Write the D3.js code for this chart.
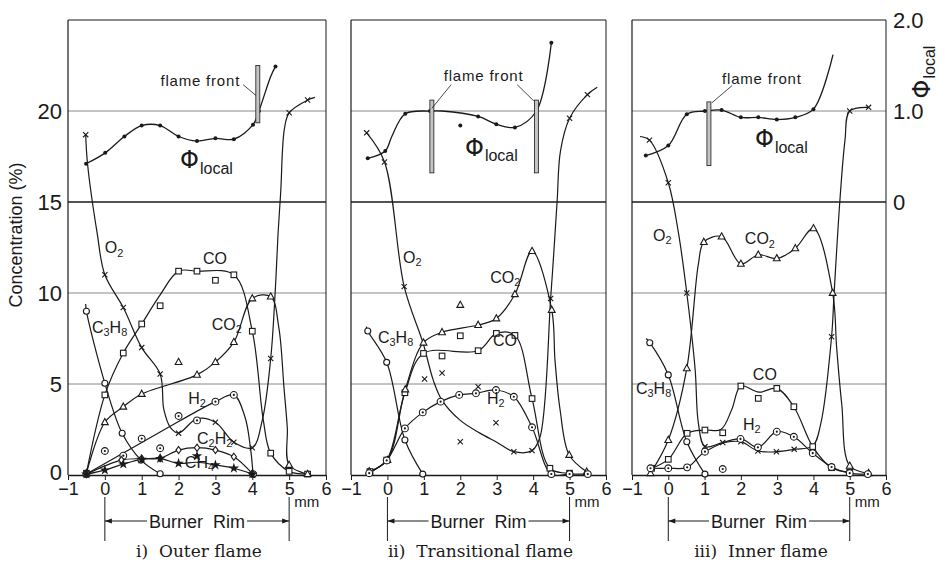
<!DOCTYPE html>
<html>
<head>
<meta charset="utf-8">
<script src="https://cdn.jsdelivr.net/npm/d3@7"></script>
<style>
body { margin: 0; background: #fff; }
svg { display: block; }
</style>
</head>
<body>
<svg id="chart" width="945" height="574"></svg>
<script>
// ---- data (x in mm, concentration in %, phi dimensionless)
// point kind: 'm' measured point on the curve, 'o' measured point off the curve, 'k' curve knot only
const xTicks = [-1, 0, 1, 2, 3, 4, 5, 6]
const concTicks = [0, 5, 10, 15, 20]
const gridValues = [5, 10, 15, 20]
const phiTicks = [0, 1, 2]
const phiTickLabels = ['0', '1.0', '2.0']
const panelTitles = ['i)  Outer flame', 'ii)  Transitional flame', 'iii)  Inner flame']
const rimEdges = [0, 5]

const outerPhi = [[-0.51,0.42,'m'],[0.01,0.54,'m'],[0.53,0.72,'m'],[1.0,0.84,'m'],[1.5,0.84,'m'],[2.0,0.72,'m'],[2.5,0.67,'m'],[3.0,0.70,'m'],[3.5,0.69,'m'],[4.02,0.85,'m'],[4.18,1.0,'m'],[4.5,1.38,'k'],[4.63,1.49,'m']]
const outerO2 = [[-0.52,18.7,'m'],[-0.47,17.1,'k'],[-0.21,13.3,'k'],[0,11.0,'m'],[0.5,9.2,'m'],[1,7.0,'m'],[1.5,5.55,'m'],[1.6,3.6,'k'],[1.78,2.6,'k'],[2,2.3,'m'],[2.5,3.1,'k'],[3,2.9,'m'],[3.5,1.8,'m'],[4,1.5,'m'],[4.27,3.0,'k'],[4.5,6.4,'m'],[4.62,10,'k'],[4.7,13.3,'k'],[4.77,15.5,'k'],[4.87,19.0,'k'],[5,19.9,'m'],[5.5,20.6,'m'],[5.7,20.75,'k']]
const outerCO = [[-0.5,0.1,'m'],[0,4.4,'m'],[0.5,6.7,'m'],[1,8.3,'m'],[1.5,9.3,'o'],[1.5,9.9,'k'],[2,11.2,'m'],[2.5,11.2,'m'],[3,10.7,'o'],[3.5,11.0,'m'],[4,7.9,'m'],[4.3,3.0,'k'],[4.5,1.2,'m'],[5,0.2,'m'],[5.5,0.05,'m']]
const outerCO2 = [[-0.5,0.1,'m'],[0,2.9,'m'],[0.5,3.75,'m'],[1,4.45,'m'],[2,6.2,'o'],[2.5,5.5,'m'],[3,6.2,'m'],[3.5,7.3,'m'],[4,9.7,'m'],[4.5,9.8,'m'],[4.72,8.1,'k'],[4.86,4.8,'k'],[4.95,2.6,'k'],[5,0.55,'m'],[5.5,0.05,'m']]
const outerC3H8 = [[-0.52,9.4,'k'],[-0.5,9.0,'m'],[0,5.04,'m'],[0.47,2.29,'m'],[0.98,0.82,'m'],[1.5,0.07,'m']]
const outerH2 = [[-0.5,0.05,'m'],[0,1.32,'o'],[0.5,1.06,'o'],[1,2.0,'o'],[1.5,1.47,'o'],[1.5,2.36,'k'],[2,3.24,'o'],[2.5,3.0,'o'],[3,4.03,'m'],[3.5,4.4,'m'],[3.8,3.2,'k'],[3.95,1.5,'k'],[4.02,0.05,'m']]
const outerC2H2 = [[-0.5,0.05,'m'],[0.45,0.82,'m'],[1,0.9,'m'],[1.5,0.92,'m'],[2,1.37,'m'],[2.5,1.5,'m'],[3,1.37,'m'],[3.5,1.0,'m'],[4,0.08,'m']]
const outerCH4 = [[-0.5,0.05,'m'],[0,0.27,'m'],[0.5,0.6,'m'],[1,0.86,'m'],[1.5,0.9,'m'],[2,0.64,'m'],[2.5,1.04,'o'],[2.5,0.7,'k'],[3,0.55,'m'],[3.5,0.37,'m'],[4,0.05,'m']]
const outerFront = [[4.15, 1.5, 0.87]]

const transPhi = [[-0.54,0.48,'m'],[-0.06,0.56,'m'],[0.12,0.72,'k'],[0.49,0.97,'m'],[1.17,1.0,'m'],[1.5,1.0,'k'],[2.0,0.84,'o'],[2.49,0.94,'m'],[2.99,0.855,'m'],[3.5,0.82,'m'],[4.09,1.0,'m'],[4.5,1.75,'m']]
const transO2 = [[-0.57,18.8,'m'],[-0.08,17.2,'m'],[0.46,10.35,'m'],[0.98,7.24,'k'],[1.02,5.27,'o'],[1.26,5.2,'k'],[1.5,5.6,'o'],[1.5,4.1,'k'],[2.0,1.83,'o'],[2.0,3.0,'k'],[2.49,4.85,'o'],[2.54,2.3,'k'],[2.98,2.87,'o'],[3.0,1.8,'k'],[3.47,1.28,'m'],[3.97,1.34,'m'],[4.19,2.1,'k'],[4.48,9.7,'m'],[4.56,12,'k'],[4.66,15.1,'k'],[4.75,17.8,'k'],[5.0,19.6,'m'],[5.49,20.9,'m'],[5.76,21.3,'k']]
const transCO2 = [[-0.5,0.2,'m'],[0,0.82,'m'],[0.49,4.7,'m'],[0.99,7.27,'m'],[1.5,7.84,'m'],[2.0,9.34,'o'],[2.49,8.24,'m'],[2.99,8.6,'m'],[3.5,9.93,'m'],[3.97,12.3,'m'],[4.51,9.07,'m'],[4.6,6.3,'k'],[4.74,3.57,'k'],[4.99,1.1,'m'],[5.47,0.18,'m']]
const transCO = [[-0.48,0.19,'m'],[-0.02,0.82,'m'],[0.48,4.52,'m'],[0.99,6.68,'m'],[1.5,6.54,'o'],[2.0,7.65,'o'],[2.49,6.83,'m'],[2.99,7.78,'m'],[3.5,7.67,'m'],[3.97,4.2,'m'],[4.46,0.37,'m'],[5.0,0.1,'m']]
const transH2 = [[-0.5,0.1,'m'],[-0.02,0.8,'m'],[0.48,2.56,'m'],[0.97,3.44,'m'],[1.46,4.03,'m'],[1.97,4.4,'m'],[2.43,4.49,'m'],[2.98,4.67,'m'],[3.47,4.3,'m'],[3.97,2.62,'m'],[4.5,0.05,'m'],[5.0,0.05,'m'],[5.5,0.05,'m']]
const transC3H8 = [[-0.58,8.15,'k'],[-0.54,7.91,'m'],[-0.02,6.19,'m'],[0.48,1.92,'m'],[0.97,0.05,'m']]
const transFront = [[1.22, 1.12, 0.32], [4.09, 1.12, 0.32]]

const innerPhi = [[-0.62,0.51,'m'],[0,0.62,'m'],[0.51,0.965,'m'],[1.01,1.0,'m'],[1.47,1.01,'m'],[2.0,0.93,'m'],[2.48,0.93,'m'],[2.99,0.906,'m'],[3.5,0.93,'m'],[4.0,1.02,'m'],[4.54,1.62,'k']]
const innerO2 = [[-0.78,18.6,'k'],[-0.52,18.4,'m'],[0,16.06,'m'],[0.28,13.3,'k'],[0.51,10.0,'m'],[0.74,5.8,'k'],[0.83,2.84,'k'],[1.01,1.56,'m'],[1.5,1.78,'m'],[2.0,1.83,'m'],[2.47,1.32,'m'],[2.98,1.28,'m'],[3.47,1.41,'m'],[3.98,1.6,'m'],[4.2,2.8,'k'],[4.5,7.6,'m'],[4.57,10.0,'k'],[4.73,15.1,'k'],[4.87,18.4,'k'],[5.0,20.0,'m'],[5.52,20.2,'m']]
const innerCO2 = [[-0.49,0.1,'m'],[0,1.92,'m'],[0.51,5.86,'m'],[0.83,11.6,'k'],[0.98,12.8,'m'],[1.47,13.1,'m'],[2.0,11.6,'m'],[2.48,12.1,'m'],[2.99,11.9,'m'],[3.5,12.45,'m'],[4.0,13.55,'m'],[4.53,10.0,'m'],[4.64,7.0,'k'],[4.78,3.9,'k'],[5.0,0.5,'m'],[5.52,0.1,'m']]
const innerCO = [[-0.46,0.37,'m'],[0,0.86,'m'],[0.52,2.29,'m'],[1.01,2.47,'m'],[1.45,2.5,'k'],[1.5,2.32,'o'],[1.75,3.6,'k'],[2.0,4.89,'m'],[2.48,4.21,'o'],[2.5,4.55,'k'],[2.99,4.76,'m'],[3.46,3.75,'m'],[3.98,1.56,'m'],[4.5,0.4,'m'],[5.0,0.15,'m']]
const innerH2 = [[-0.49,0.37,'m'],[0,0.37,'m'],[0.52,0.42,'m'],[1.01,1.28,'m'],[1.5,0.33,'o'],[1.99,1.98,'m'],[2.47,1.52,'m'],[2.99,2.38,'m'],[3.46,2.1,'m'],[3.98,1.2,'m'],[4.5,0.44,'m'],[5.0,0.1,'m'],[5.5,0.05,'m']]
const innerC3H8 = [[-0.61,7.5,'k'],[-0.51,7.27,'m'],[0,5.5,'m'],[0.51,1.83,'m'],[1.01,0.05,'m']]
const innerFront = [[1.12, 1.1, 0.4]]

// ---- layout
const ink = '#1a1a1a'
const plotTop = 20, plotBottom = 475
const sans = "'Liberation Sans', Arial, sans-serif"

let svg = d3.select('#chart')
svg.append('rect').attr('width', 945).attr('height', 574).attr('fill', '#fff')

let yConc = d3.scaleLinear().domain([0, 25]).range([plotBottom, plotTop])
let yPhi = d3.scaleLinear().domain([0, 2]).range([yConc(15), yConc(25)])

let panels = [
    {
        left: 68, right: 326, title: panelTitles[0], phi: outerPhi, fronts: outerFront,
        series: [[outerO2,'cross'],[outerCO,'square'],[outerCO2,'triangle'],[outerC3H8,'circle'],[outerH2,'circledot'],[outerC2H2,'diamond'],[outerCH4,'star']],
        labels: [['O2',0.0,12.0],['CO',2.66,11.4],['CO2',2.9,7.8],['C3H8',-0.35,7.65],['H2',2.26,3.74],['C2H2',2.5,1.54],['CH4',2.17,0.2]],
        phiLabel: [2.04, 0.37],
        frontText: [3.67, 1.27, 'end'],
        leaders: [[3.75,1.29,4.1,1.17]]
    },
    {
        left: 351, right: 606, title: panelTitles[1], phi: transPhi, fronts: transFront,
        series: [[transO2,'cross'],[transCO,'square'],[transCO2,'triangle'],[transC3H8,'circle'],[transH2,'circledot']],
        labels: [['O2',0.43,11.5],['CO2',2.82,10.4],['C3H8',-0.26,7.1],['CO',2.9,6.9],['H2',2.73,3.74]],
        phiLabel: [2.13, 0.51],
        frontText: [2.64, 1.33, 'middle'],
        leaders: [[1.75,1.29,1.22,1.03],[3.56,1.29,4.02,1.11]]
    },
    {
        left: 632, right: 886, title: panelTitles[2], phi: innerPhi, fronts: innerFront,
        series: [[innerO2,'cross'],[innerCO,'square'],[innerCO2,'triangle'],[innerC3H8,'circle'],[innerH2,'circledot']],
        labels: [['O2',-0.42,12.7],['CO2',2.11,12.5],['C3H8',-0.89,4.3],['CO',2.33,5.05],['H2',2.06,2.3]],
        phiLabel: [2.39, 0.6],
        frontText: [2.58, 1.3, 'middle'],
        leaders: [[1.76,1.28,1.2,1.09]]
    }
]

// chemical formula with subscripted digits
const formula = (g, str, px, py, size, anchor) => {
    let t = g.append('text').attr('x', px).attr('y', py)
        .attr('font-family', sans).attr('font-size', size).attr('fill', ink)
        .attr('text-anchor', anchor || 'start')
    let parts = str.match(/\d+|\D+/g)
    parts.forEach(p => {
        if (/\d/.test(p)) {
            t.append('tspan').attr('font-size', size * 0.68).attr('dy', size * 0.2).text(p)
        } else {
            t.append('tspan').attr('font-size', size).attr('dy', t.node().childNodes.length ? -size * 0.2 : 0).text(p)
        }
    })
    return t
}

const phiText = (g, px, py, big, small, rotate) => {
    let t = g.append('text').attr('x', px).attr('y', py)
        .attr('font-family', sans).attr('fill', ink)
    if (rotate) t.attr('transform', `rotate(-90,${px},${py})`).attr('text-anchor', 'middle')
    t.append('tspan').attr('font-size', big).attr('font-family', "'DejaVu Sans', sans-serif").text('Φ')
    t.append('tspan').attr('font-size', small).attr('dy', big * 0.22).attr('dx', 1).text('local')
}

const addMarkers = (g, pts, kind, x, y) => {
    let m = g.selectAll(null).data(pts).join('g')
        .attr('transform', d => `translate(${x(d[0])},${y(d[1])})`)
    if (kind === 'cross') m.append('path').attr('d', 'M-2.6,-2.6L2.6,2.6M-2.6,2.6L2.6,-2.6').attr('stroke', ink).attr('stroke-width', 1.1)
    if (kind === 'square') m.append('rect').attr('x', -2.8).attr('y', -2.8).attr('width', 5.6).attr('height', 5.6).attr('fill', '#fff').attr('stroke', ink).attr('stroke-width', 1.1)
    if (kind === 'triangle') m.append('path').attr('d', 'M0,-3.8L3.4,2.4L-3.4,2.4Z').attr('fill', '#fff').attr('stroke', ink).attr('stroke-width', 1.1)
    if (kind === 'circle') m.append('circle').attr('r', 3).attr('fill', '#fff').attr('stroke', ink).attr('stroke-width', 1.1)
    if (kind === 'circledot') {
        m.append('circle').attr('r', 3.4).attr('fill', '#fff').attr('stroke', ink).attr('stroke-width', 1.1)
        m.append('circle').attr('r', 1.1).attr('fill', ink)
    }
    if (kind === 'diamond') m.append('path').attr('d', 'M0,-3.6L2.6,0L0,3.6L-2.6,0Z').attr('fill', '#fff').attr('stroke', ink).attr('stroke-width', 1.1)
    if (kind === 'star') m.append('path').attr('d', d3.symbol(d3.symbolStar, 34)()).attr('fill', ink)
    if (kind === 'dot') m.append('circle').attr('r', 2).attr('fill', ink)
}

panels.forEach((p, i) => {
    let x = d3.scaleLinear().domain([-1, 6]).range([p.left, p.right])
    let g = svg.append('g')

    // grid and frame
    gridValues.forEach(v => {
        g.append('line').attr('x1', p.left).attr('x2', p.right)
            .attr('y1', yConc(v)).attr('y2', yConc(v))
            .attr('stroke', v === 15 ? ink : '#6a6a6a')
            .attr('stroke-width', v === 15 ? 1.3 : 0.8)
    })
    g.append('line').attr('x1', p.left).attr('x2', p.right).attr('y1', plotTop).attr('y2', plotTop).attr('stroke', ink).attr('stroke-width', 1.1)
    g.append('line').attr('x1', p.left).attr('x2', p.left).attr('y1', plotTop).attr('y2', plotBottom).attr('stroke', ink).attr('stroke-width', 1.2)
    g.append('line').attr('x1', p.right).attr('x2', p.right).attr('y1', plotTop).attr('y2', plotBottom).attr('stroke', ink).attr('stroke-width', 1.0)

    // x axis
    let ax = g.append('g').attr('transform', `translate(0,${plotBottom})`)
        .call(d3.axisBottom(x).tickValues(xTicks).tickSize(5).tickSizeOuter(0).tickPadding(2).tickFormat(d3.format('d')))
    ax.select('.domain').attr('stroke', ink).attr('stroke-width', 1.4)
    ax.selectAll('line').attr('stroke', ink)
    ax.selectAll('text').attr('font-family', sans).attr('font-size', 18).attr('fill', ink)

    // curves and markers
    let line = d3.line().x(d => x(d[0])).y(d => yConc(d[1])).curve(d3.curveCatmullRom.alpha(0.5))
    p.series.forEach(([pts, kind]) => {
        g.append('path').datum(pts.filter(d => d[2] !== 'o'))
            .attr('d', line).attr('fill', 'none').attr('stroke', ink).attr('stroke-width', 1.2)
    })
    p.series.forEach(([pts, kind]) => {
        addMarkers(g, pts.filter(d => d[2] !== 'k'), kind, x, yConc)
    })

    // phi local curve
    let phiLine = d3.line().x(d => x(d[0])).y(d => yPhi(d[1])).curve(d3.curveCatmullRom.alpha(0.5))
    g.append('path').datum(p.phi.filter(d => d[2] !== 'o'))
        .attr('d', phiLine).attr('fill', 'none').attr('stroke', ink).attr('stroke-width', 1.3)
    addMarkers(g, p.phi.filter(d => d[2] !== 'k'), 'dot', x, yPhi)

    // flame fronts
    p.fronts.forEach(f => {
        let fx = x(f[0])
        g.append('rect').attr('x', fx - 2).attr('width', 4)
            .attr('y', yPhi(f[1])).attr('height', yPhi(f[2]) - yPhi(f[1]))
            .attr('fill', '#c4c4c4').attr('stroke', ink).attr('stroke-width', 0.8)
    })
    p.leaders.forEach(l => {
        g.append('line').attr('x1', x(l[0])).attr('y1', yPhi(l[1])).attr('x2', x(l[2])).attr('y2', yPhi(l[3]))
            .attr('stroke', ink).attr('stroke-width', 0.8)
    })
    g.append('text').attr('x', x(p.frontText[0])).attr('y', yPhi(p.frontText[1]))
        .attr('text-anchor', p.frontText[2])
        .attr('font-family', sans).attr('font-size', 15).attr('letter-spacing', 0.8).attr('fill', ink)
        .text('flame front')

    // labels
    p.labels.forEach(([name, lx, ly]) => formula(g, name, x(lx), yConc(ly), 16))
    phiText(g, x(p.phiLabel[0]), yPhi(p.phiLabel[1]), 24, 16, false)

    // burner rim
    let rx0 = x(rimEdges[0]), rx1 = x(rimEdges[1])
    rimEdges.forEach(e => {
        g.append('line').attr('x1', x(e)).attr('x2', x(e)).attr('y1', 497).attr('y2', 541).attr('stroke', ink).attr('stroke-width', 1)
    })
    let cx = (rx0 + rx1) / 2
    let rimText = g.append('text').attr('x', cx).attr('y', 528).attr('text-anchor', 'middle')
        .attr('font-family', sans).attr('font-size', 18).attr('fill', ink).attr('xml:space', 'preserve')
        .text('Burner  Rim')
    let tw = rimText.node().getComputedTextLength()
    g.append('line').attr('x1', rx0).attr('x2', cx - tw / 2 - 2).attr('y1', 521).attr('y2', 521).attr('stroke', ink).attr('stroke-width', 1)
    g.append('line').attr('x1', cx + tw / 2 + 2).attr('x2', rx1).attr('y1', 521).attr('y2', 521).attr('stroke', ink).attr('stroke-width', 1)
    g.append('path').attr('d', `M${rx0},521l7,-2.5l0,5Z`).attr('fill', ink)
    g.append('path').attr('d', `M${rx1},521l-7,-2.5l0,5Z`).attr('fill', ink)
    g.append('text').attr('x', rx1 + 5).attr('y', 507).attr('font-family', sans).attr('font-size', 15).attr('fill', ink).text('mm')

    // panel title
    g.append('text').attr('x', (p.left + p.right) / 2 + 2).attr('y', 557).attr('text-anchor', 'middle')
        .attr('font-family', "'DejaVu Serif', 'Liberation Serif', serif").attr('font-size', 17).attr('fill', ink)
        .attr('xml:space', 'preserve').text(p.title)
})

// left concentration axis
let yAx = svg.append('g').attr('transform', 'translate(64,0)')
    .call(d3.axisLeft(yConc).tickValues(concTicks).tickSize(0).tickPadding(2))
yAx.select('.domain').remove()
yAx.selectAll('text').attr('font-family', sans).attr('font-size', 22).attr('fill', ink)
yAx.selectAll('.tick').filter(d => d === 0).select('text').attr('dy', '0.2em')

svg.append('text').attr('transform', 'translate(22,235) rotate(-90)').attr('text-anchor', 'middle')
    .attr('font-family', sans).attr('font-size', 18).attr('fill', ink).text('Concentration (%)')

// right phi axis
let pAx = svg.append('g').attr('transform', 'translate(889,0)')
    .call(d3.axisRight(yPhi).tickValues(phiTicks).tickSize(0).tickPadding(4).tickFormat((d, i) => phiTickLabels[i]))
pAx.select('.domain').remove()
pAx.selectAll('text').attr('font-family', sans).attr('font-size', 22).attr('fill', ink)

phiText(svg, 930, 72, 24, 16, true)
</script>
</body>
</html>
